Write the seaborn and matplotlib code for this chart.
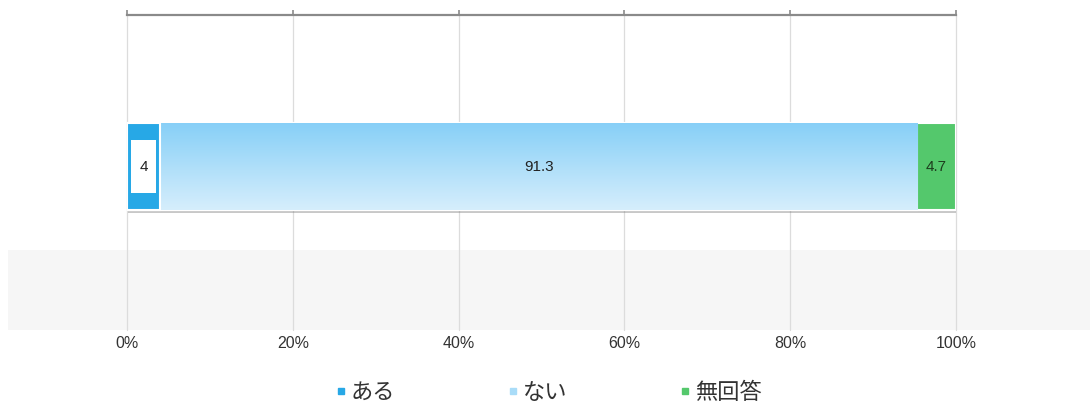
import numpy as np
import matplotlib
matplotlib.use('Agg')
import matplotlib.pyplot as plt
import matplotlib.patheffects as pe
from matplotlib.patches import Rectangle
from matplotlib.lines import Line2D
import seaborn as sns
import pandas as pd

# --- dados ---
categorias = ['ある', 'ない', '無回答']
valores = [4, 91.3, 4.7]
rotulos = ['4', '91.3', '4.7']
cores = ['#27a8e6', '#a9dcf8', '#54c86c']
ticks = [0, 20, 40, 60, 80, 100]

sns.set_style('white')
plt.rcParams['font.family'] = ['Liberation Sans', 'Noto Sans CJK JP', 'DejaVu Sans']

W, H = 1090, 412
fig = plt.figure(figsize=(W / 100, H / 100), dpi=100)
ax = fig.add_axes([127 / W, (H - 330) / H, (956 - 127) / W, (330 - 15) / H])
ax.patch.set_alpha(0)

# faixa cinza de fundo
fig.patches.append(Rectangle((8 / W, (H - 330) / H), 1 - 8 / W, 80 / H,
                             transform=fig.transFigure, fc='#f6f6f6', ec='none', zorder=-1))

# barras empilhadas: desenha a soma acumulada de trás para frente
acum = np.cumsum(valores)
esquerda = acum - np.array(valores)
for i in reversed(range(len(valores))):
    df = pd.DataFrame({'grupo': ['q'], 'v': [acum[i]]})
    sns.barplot(data=df, x='v', y='grupo', color=cores[i], width=0.8,
                edgecolor='white', linewidth=1.5, saturation=1, ax=ax)

barras = list(ax.patches)  # ordem: 無回答, ない, ある
p_total, p_nai, p_aru = barras
p_total.set_zorder(2)
p_total.set_path_effects([pe.SimplePatchShadow(offset=(0.5, -2.2), shadow_rgbFace='#777777', alpha=0.4),
                          pe.Normal()])
p_nai.set_zorder(3)
p_aru.set_zorder(5)

# gradiente na barra ない
x0, y0 = p_nai.get_x(), p_nai.get_y()
x1, y1 = x0 + p_nai.get_width(), y0 + p_nai.get_height()
grad = np.linspace(0, 1, 256).reshape(-1, 1)
cmap = matplotlib.colors.LinearSegmentedColormap.from_list('g', ['#86cff7', '#d6eefc'])
im = ax.imshow(grad, cmap=cmap, aspect='auto', extent=[x0, x1, y1, y0], zorder=3.5)
im.set_clip_path(p_nai)

# caixa branca do rótulo "4"
ax.add_patch(Rectangle((p_aru.get_x() + 0.12 * p_aru.get_width(), p_aru.get_y() + 0.19 * p_aru.get_height()),
                       0.76 * p_aru.get_width(), 0.62 * p_aru.get_height(),
                       fc='white', ec='none', zorder=6))

cores_txt = ['#222222', '#222222', '#1d3d1d']
for i in range(len(valores)):
    ax.text(esquerda[i] + valores[i] / 2, 0, rotulos[i], ha='center', va='center',
            fontsize=11, color=cores_txt[i], zorder=7)

ax.set_xlim(0, 100)
ax.set_ylim(1.503, -1.393)
ax.set_xticks(ticks)
ax.set_xticklabels([f'{t}%' for t in ticks])
ax.set_yticks([])
ax.set_xlabel('')
ax.set_ylabel('')
ax.grid(axis='x', color='#dcdcdc', lw=0.9, clip_on=False)
ax.set_axisbelow(True)
for s in ['left', 'right', 'bottom']:
    ax.spines[s].set_visible(False)
ax.spines['top'].set_color('#8a8a8a')
ax.spines['top'].set_linewidth(1.6)
ax.tick_params(axis='x', top=True, bottom=False, labeltop=False, labelbottom=True,
               direction='out', length=3.5, width=1.2, color='#8a8a8a',
               labelsize=11.5, labelcolor='#333333', pad=0.5)

handles = [Line2D([], [], marker='s', ls='', color=c, markersize=4.5) for c in cores]
fig.legend(handles, categorias, loc='center', bbox_to_anchor=(548 / W, 19 / H), ncol=3,
           frameon=False, fontsize=16, handletextpad=0.15, columnspacing=5.0,
           handlelength=0.6, labelcolor='#333333')

fig.savefig('out.png', dpi=100)
